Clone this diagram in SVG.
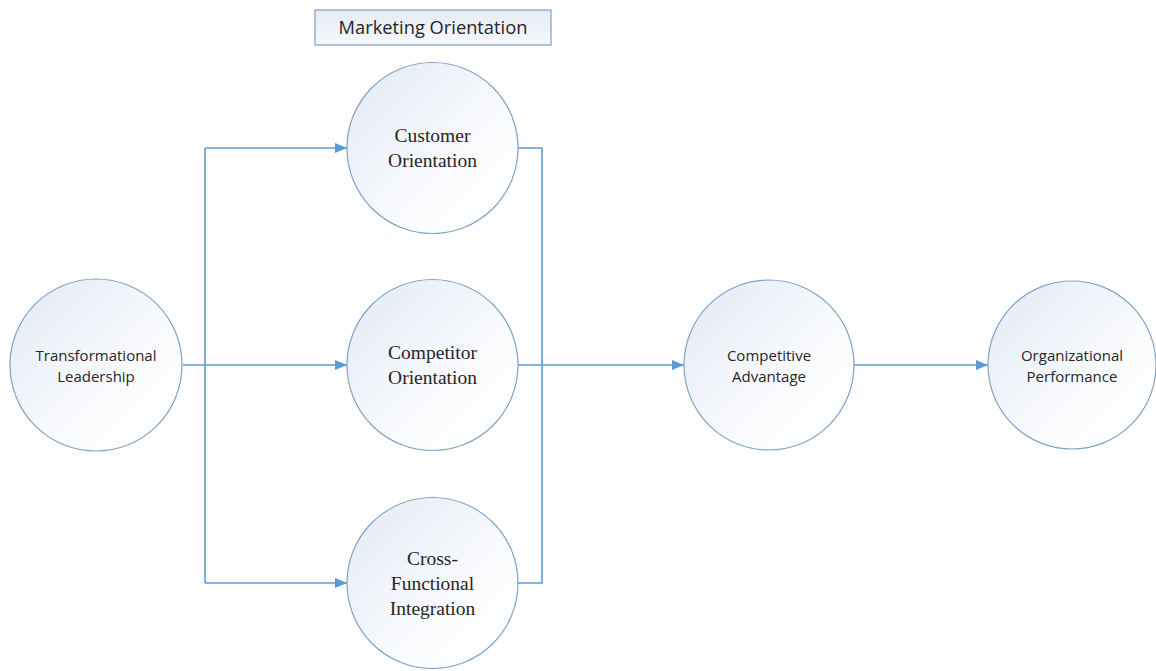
<svg xmlns="http://www.w3.org/2000/svg" width="1156" height="671" viewBox="0 0 1156 671">
<defs>
<linearGradient id="cg" x1="0" y1="0" x2="1" y2="1">
<stop offset="0" stop-color="#e3eaf4"/>
<stop offset="0.65" stop-color="#fbfcfe"/>
<stop offset="1" stop-color="#ffffff"/>
</linearGradient>
<linearGradient id="bg" x1="0" y1="0" x2="0" y2="1">
<stop offset="0" stop-color="#e6ecf5"/>
<stop offset="1" stop-color="#f6f8fb"/>
</linearGradient>
<marker id="ah" markerWidth="12" markerHeight="10" refX="12" refY="5" orient="auto" markerUnits="userSpaceOnUse">
<path d="M0,0 L12,5 L0,10 Z" fill="#5b9bd5"/>
</marker>
</defs>
<style>
.n{fill:url(#cg);stroke:#7fa3c9;stroke-width:1.2}
.c{fill:none;stroke:#5b9bd5;stroke-width:1.6}
.s{font-family:"Open Sans","Liberation Sans",sans-serif;font-size:15px;fill:#262626;text-anchor:middle}
.r{font-family:"Liberation Serif","DejaVu Serif",serif;font-size:19.5px;fill:#262626;text-anchor:middle}
</style>
<rect width="1156" height="671" fill="#ffffff"/>
<g id="connectors">
<line class="c" x1="183" y1="365" x2="347" y2="365" marker-end="url(#ah)"/>
<polyline class="c" points="205,148 205,583"/>
<line class="c" x1="205" y1="148" x2="347" y2="148" marker-end="url(#ah)"/>
<line class="c" x1="205" y1="583" x2="347" y2="583" marker-end="url(#ah)"/>
<polyline class="c" points="518,148 542,148 542,583 518,583"/>
<line class="c" x1="518" y1="365" x2="684" y2="365" marker-end="url(#ah)"/>
<line class="c" x1="854" y1="365" x2="988" y2="365" marker-end="url(#ah)"/>
</g>
<g id="marketing-orientation">
<rect x="315" y="10" width="236" height="35" fill="url(#bg)" stroke="#7f9fc4" stroke-width="1.2"/>
<text x="433" y="34" font-family="'Open Sans','Liberation Sans',sans-serif" font-size="18.3px" fill="#262626" text-anchor="middle">Marketing Orientation</text>
</g>
<g id="transformational-leadership">
<circle class="n" cx="96" cy="365" r="86"/>
<text class="s" x="96" y="361">Transformational</text>
<text class="s" x="96" y="382">Leadership</text>
</g>
<g id="customer-orientation">
<circle class="n" cx="432.5" cy="148" r="85.5"/>
<text class="r" x="432.5" y="142">Customer</text>
<text class="r" x="432.5" y="167">Orientation</text>
</g>
<g id="competitor-orientation">
<circle class="n" cx="432.5" cy="365" r="85.5"/>
<text class="r" x="432.5" y="359">Competitor</text>
<text class="r" x="432.5" y="384">Orientation</text>
</g>
<g id="cross-functional-integration">
<circle class="n" cx="432.5" cy="583" r="85.5"/>
<text class="r" x="432.5" y="565">Cross-</text>
<text class="r" x="432.5" y="590">Functional</text>
<text class="r" x="432.5" y="615">Integration</text>
</g>
<g id="competitive-advantage">
<circle class="n" cx="769" cy="365" r="85"/>
<text class="s" x="769" y="361">Competitive</text>
<text class="s" x="769" y="382">Advantage</text>
</g>
<g id="organizational-performance">
<circle class="n" cx="1072" cy="365" r="84"/>
<text class="s" x="1072" y="361">Organizational</text>
<text class="s" x="1072" y="382">Performance</text>
</g>
</svg>
